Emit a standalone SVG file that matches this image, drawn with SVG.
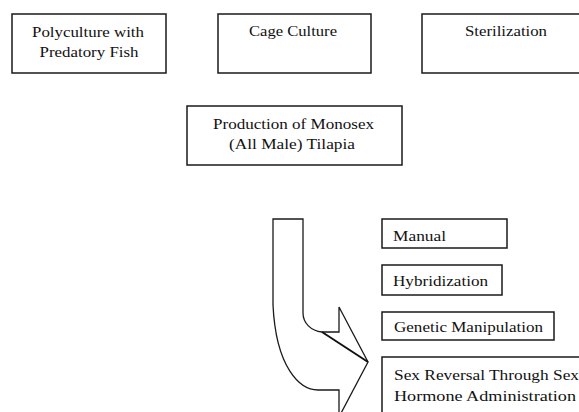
<svg xmlns="http://www.w3.org/2000/svg" width="579" height="412" viewBox="0 0 579 412">
<style>
.box{fill:#fff;stroke:#1a1a1a;stroke-width:1.5}
.t{font-family:"Liberation Serif","Times New Roman",serif;font-size:14px;fill:#111}
.c{text-anchor:middle}
.arrow{fill:#fff;stroke:#1a1a1a;stroke-width:1.3;stroke-linejoin:miter}
.fold{stroke:#111;stroke-width:2;fill:none}
</style>
<rect width="579" height="412" fill="#fff"/>
<g id="node-polyculture">
<rect class="box" x="12" y="14" width="154" height="59"/>
<text class="t c" x="88" y="37" textLength="112" lengthAdjust="spacingAndGlyphs">Polyculture with</text>
<text class="t c" x="89" y="57" textLength="99" lengthAdjust="spacingAndGlyphs">Predatory Fish</text>
</g>
<g id="node-cage">
<rect class="box" x="218" y="14" width="153" height="59"/>
<text class="t c" x="293" y="36" textLength="88" lengthAdjust="spacingAndGlyphs">Cage Culture</text>
</g>
<g id="node-sterilization">
<rect class="box" x="422" y="14" width="170" height="59"/>
<text class="t c" x="506" y="36" textLength="82" lengthAdjust="spacingAndGlyphs">Sterilization</text>
</g>
<g id="node-monosex">
<rect class="box" x="187" y="106" width="215" height="59"/>
<text class="t c" x="293.5" y="129" textLength="161" lengthAdjust="spacingAndGlyphs">Production of Monosex</text>
<text class="t c" x="292" y="149" textLength="126" lengthAdjust="spacingAndGlyphs">(All Male) Tilapia</text>
</g>
<g id="connectors">
<path class="arrow" d="M273,219 H303 V313 C303,323 311,331 322,332 H339 V307 L368,362 L339,417 V390 H318 C300,390 276,368 273,305 Z"/>
<path class="fold" d="M322,332 L368,362"/>
</g>
<g id="node-manual">
<rect class="box" x="382" y="219" width="125" height="29"/>
<text class="t" x="393" y="241" textLength="53" lengthAdjust="spacingAndGlyphs">Manual</text>
</g>
<g id="node-hybridization">
<rect class="box" x="382" y="265" width="120" height="30"/>
<text class="t" x="393" y="286" textLength="95" lengthAdjust="spacingAndGlyphs">Hybridization</text>
</g>
<g id="node-genetic">
<rect class="box" x="382" y="312" width="172" height="28"/>
<text class="t" x="394" y="332" textLength="149" lengthAdjust="spacingAndGlyphs">Genetic Manipulation</text>
</g>
<g id="node-sexreversal">
<rect class="box" x="382" y="357" width="210" height="70"/>
<text class="t" x="394" y="380" textLength="185" lengthAdjust="spacingAndGlyphs">Sex Reversal Through Sex</text>
<text class="t" x="394" y="401" textLength="182" lengthAdjust="spacingAndGlyphs">Hormone Administration</text>
</g>
</svg>
